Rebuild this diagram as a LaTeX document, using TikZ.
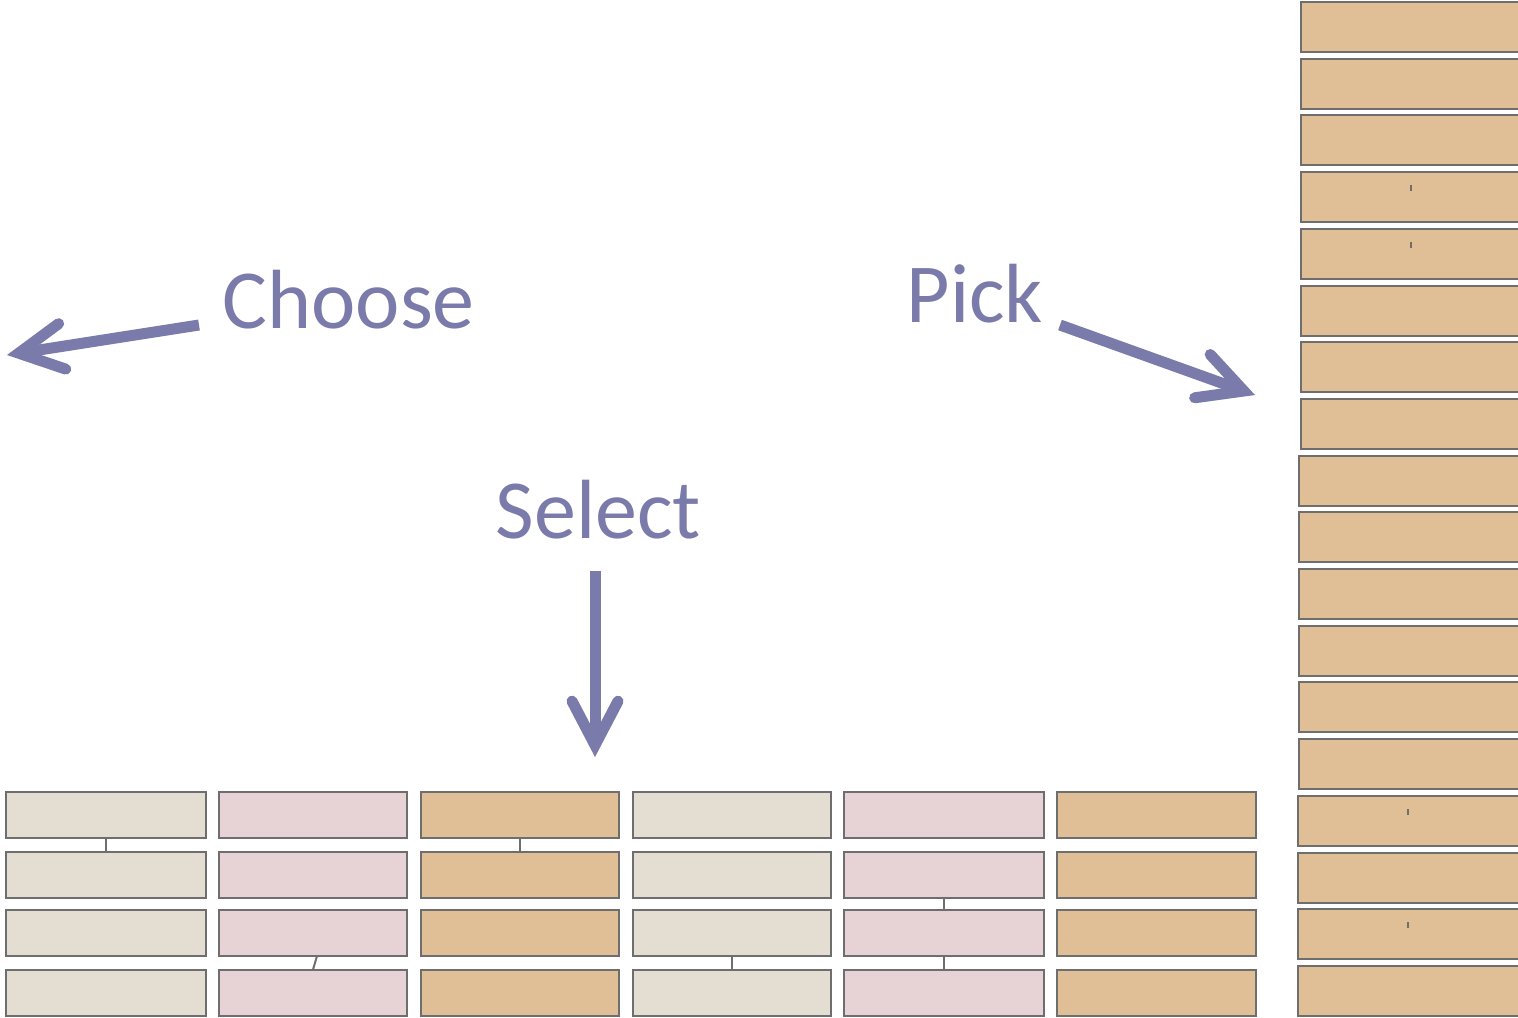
\documentclass[tikz,border=0pt]{standalone}
\usepackage{fontspec}
\setmainfont{Carlito}
\usetikzlibrary{arrows.meta}
\definecolor{lavender}{HTML}{7A7AAB}
\definecolor{brickline}{HTML}{6E6E6E}
\definecolor{sandbrick}{HTML}{E4DDD2}
\definecolor{rosebrick}{HTML}{E7D3D5}
\definecolor{tanbrick}{HTML}{E0BF96}
\begin{document}
\begin{tikzpicture}[x=0.1mm,y=-0.1mm,
    brick/.style={draw=brickline, line width=0.2mm, inner sep=0pt, outer sep=0pt, minimum height=4.6mm},
    sand/.style={brick, fill=sandbrick},
    rose/.style={brick, fill=rosebrick},
    tan/.style={brick, fill=tanbrick},
    word/.style={text=lavender, font=\fontsize{23.9}{28}\selectfont, inner sep=0pt, anchor=base west},
    pointer/.style={draw=lavender, line width=1.1mm,
        -{Straight Barb[length=4.4mm, width=4.6mm, line cap=round, line join=miter]}},
    link/.style={draw=brickline, line width=0.2mm}]
        \clip (0,0) rectangle (1518,1017);
        % labels
        \node[word] (choose) at (222,328) {Choose};
        \node[word] (pick) at (906,322) {Pick};
        \node[word] (select) at (495,538) {Select};
        % arrows
        \coordinate (choosetail) at (199,325);
        \coordinate (choosetip) at (7,355);
        \coordinate (picktail) at (1060,325);
        \coordinate (picktip) at (1255,395);
        \coordinate (selecttail) at (595,571);
        \coordinate (selecttip) at (595,757);
        \draw[pointer] (choosetail) -- (choosetip);
        \draw[pointer] (picktail) -- (picktip);
        \draw[pointer] (selecttail) -- (selecttip);
        % bottom rows
        \foreach \r/\y in {1/815,2/874.5,3/933,4/992.5} {
            \node[sand, minimum width=20.0mm] (c1-\r) at (106,\y) {};
            \node[rose, minimum width=18.8mm] (c2-\r) at (313,\y) {};
            \node[tan, minimum width=19.8mm] (c3-\r) at (520,\y) {};
            \node[sand, minimum width=19.8mm] (c4-\r) at (732,\y) {};
            \node[rose, minimum width=20.0mm] (c5-\r) at (944,\y) {};
            \node[tan, minimum width=19.9mm] (c6-\r) at (1156.5,\y) {};
        }
        \draw[link] (c1-1.south) -- (c1-2.north);
        \draw[link] (c3-1.south) -- (c3-2.north);
        \draw[link] ([xshift=0.4mm]c2-3.south) -- (c2-4.north);
        \draw[link] (c4-3.south) -- (c4-4.north);
        \draw[link] (c5-2.south) -- (c5-3.north);
        \draw[link] (c5-3.south) -- (c5-4.north);
        % right stack
        \foreach \i/\l in {1/1301,2/1301,3/1301,4/1301,5/1301,6/1301,7/1301,8/1301,
                9/1299,10/1299,11/1299,12/1299,13/1299,14/1299,
                15/1298,16/1298,17/1298,18/1298}
            \node[tan, minimum width=24mm, minimum height=5mm, anchor=north west]
                (s\i) at (\l,{2+56.7*(\i-1)}) {};
        \draw[link] ([shift={(110,13)}]s4.north west) -- ([shift={(110,19)}]s4.north west);
        \draw[link] ([shift={(110,13)}]s5.north west) -- ([shift={(110,19)}]s5.north west);
        \draw[link] ([shift={(110,13)}]s15.north west) -- ([shift={(110,19)}]s15.north west);
        \draw[link] ([shift={(110,13)}]s17.north west) -- ([shift={(110,19)}]s17.north west);
    \end{tikzpicture}
\end{document}
